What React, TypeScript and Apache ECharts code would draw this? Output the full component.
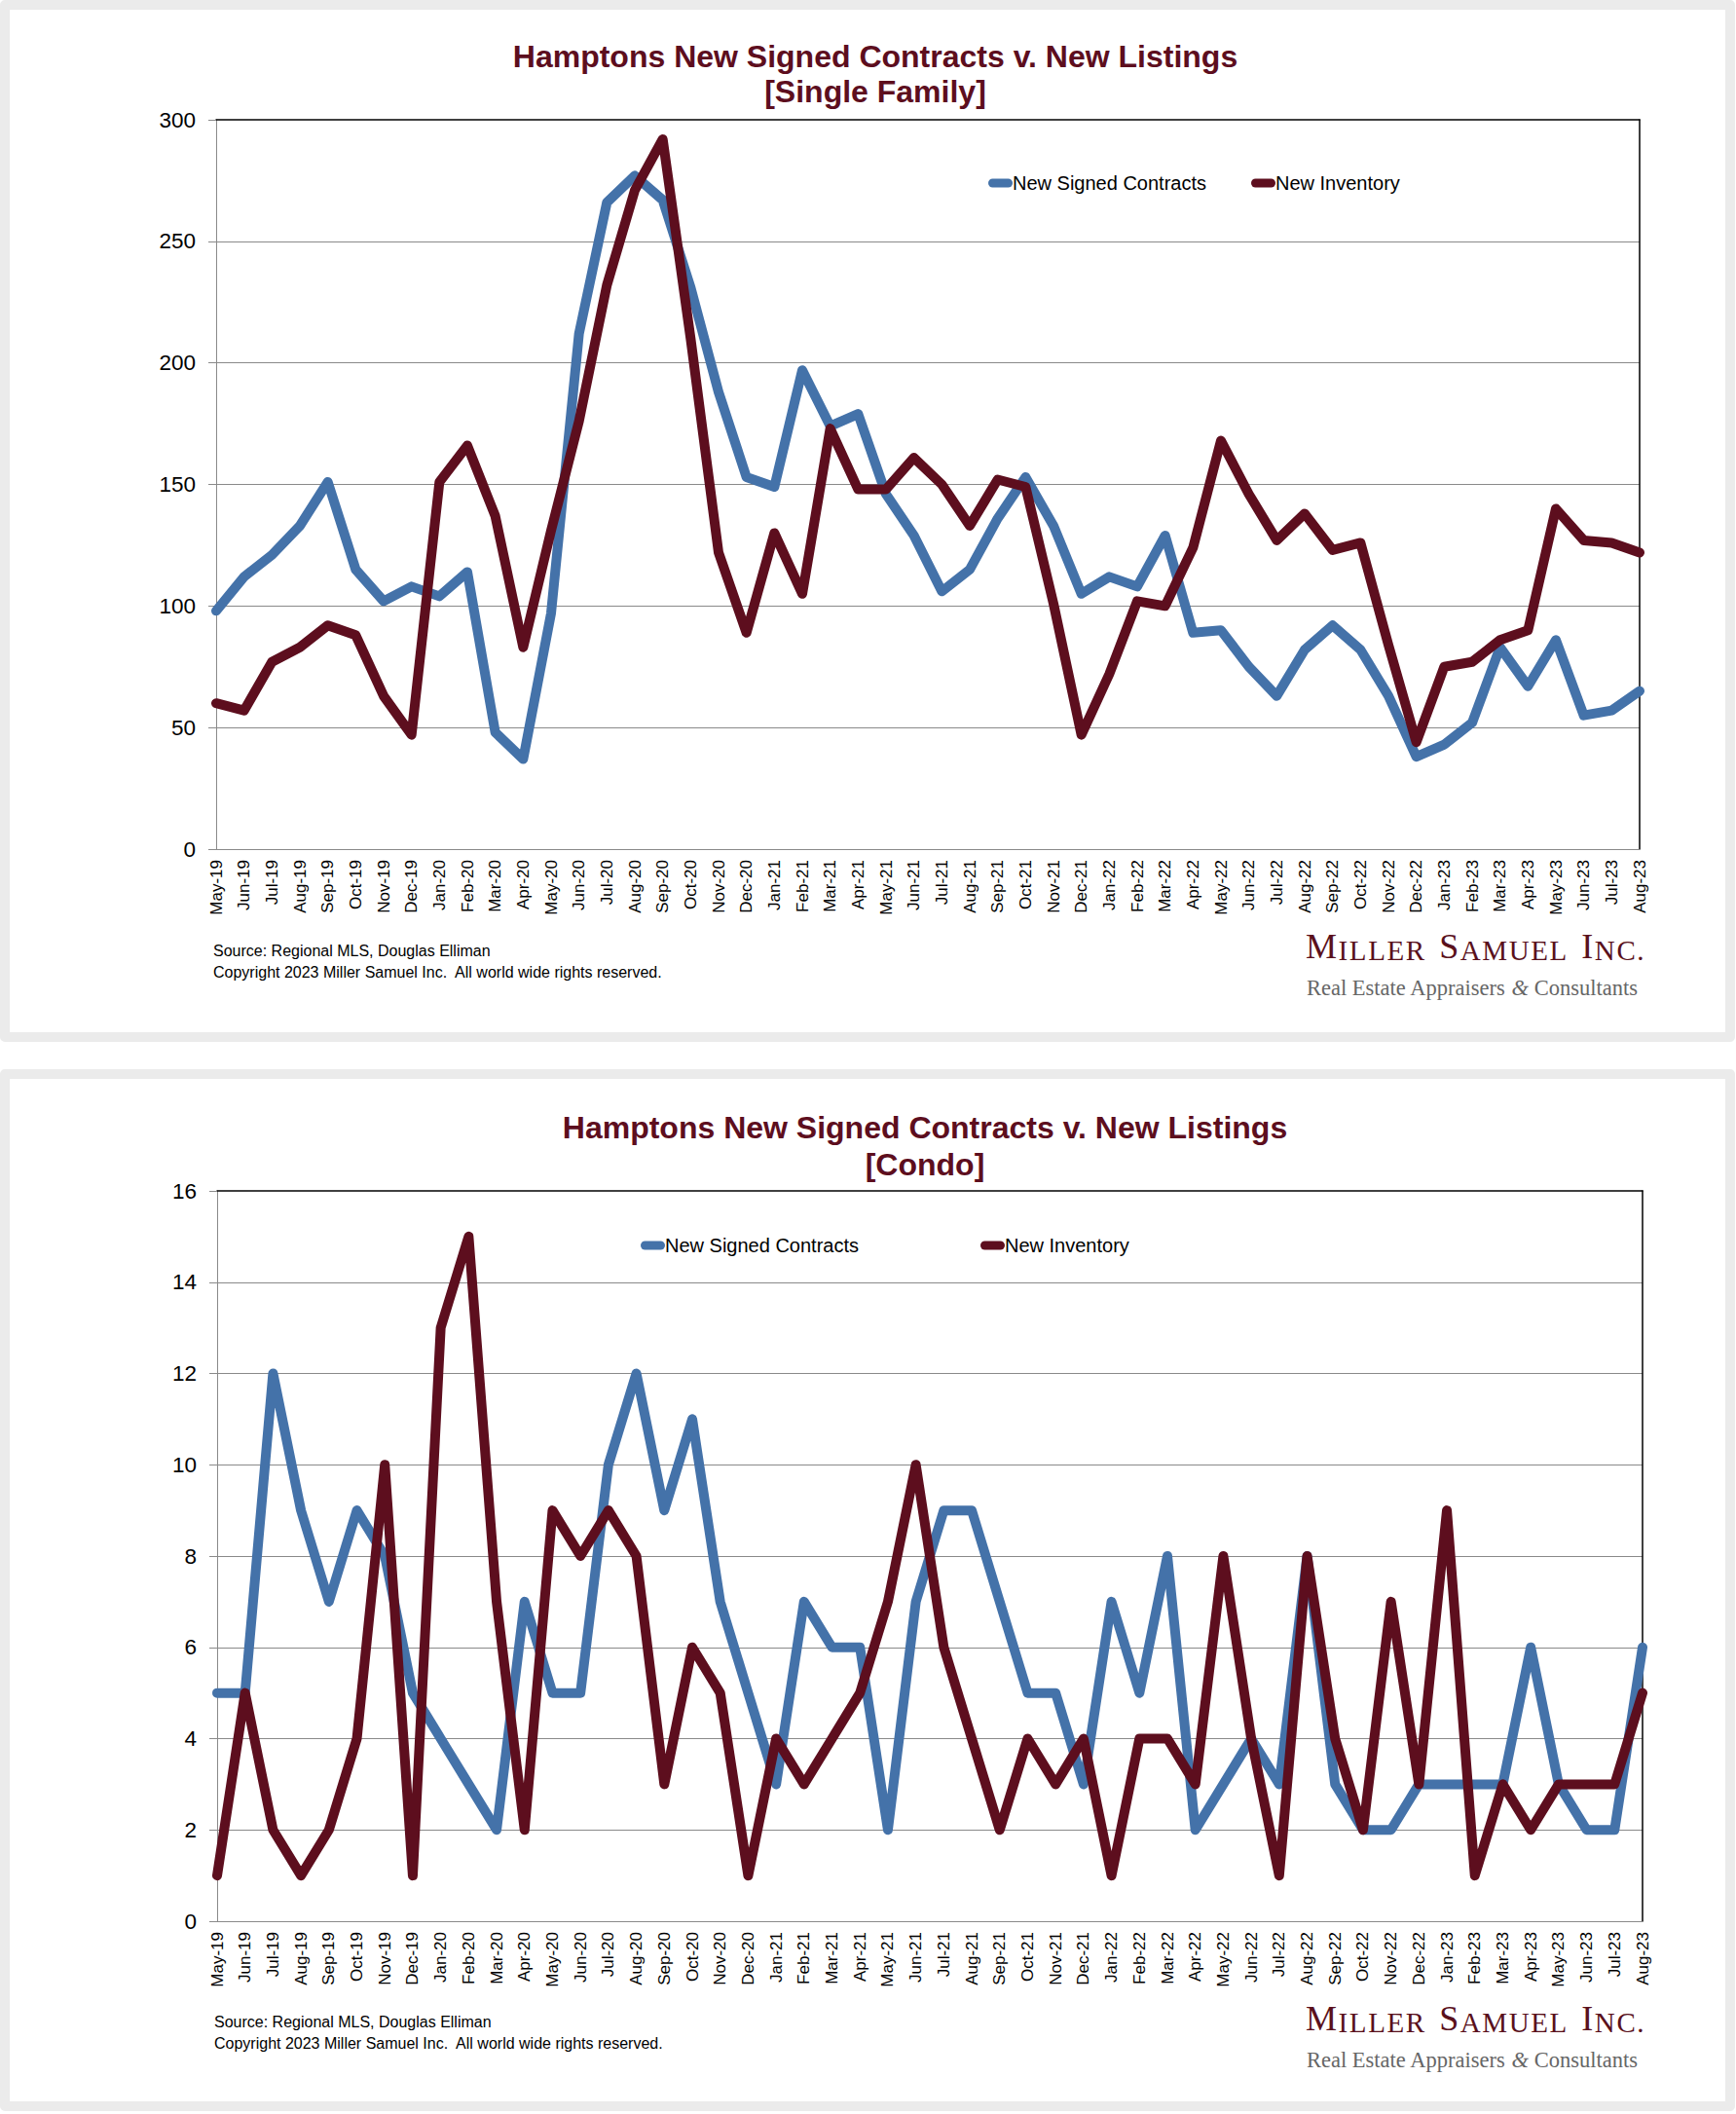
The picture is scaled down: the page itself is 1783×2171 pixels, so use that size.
import React, { useEffect, useRef } from "react";
import * as echarts from "echarts";

// ---------- DATA ----------
const months = [
  "May-19", "Jun-19", "Jul-19", "Aug-19", "Sep-19", "Oct-19", "Nov-19", "Dec-19",
  "Jan-20", "Feb-20", "Mar-20", "Apr-20", "May-20", "Jun-20", "Jul-20", "Aug-20", "Sep-20", "Oct-20", "Nov-20", "Dec-20",
  "Jan-21", "Feb-21", "Mar-21", "Apr-21", "May-21", "Jun-21", "Jul-21", "Aug-21", "Sep-21", "Oct-21", "Nov-21", "Dec-21",
  "Jan-22", "Feb-22", "Mar-22", "Apr-22", "May-22", "Jun-22", "Jul-22", "Aug-22", "Sep-22", "Oct-22", "Nov-22", "Dec-22",
  "Jan-23", "Feb-23", "Mar-23", "Apr-23", "May-23", "Jun-23", "Jul-23", "Aug-23",
];

const singleFamilyContracts = [
  98, 112, 121, 133, 151, 115, 102, 108,
  104, 114, 48, 37, 97, 212, 266, 277, 267, 231, 188, 153,
  149, 197, 174, 179, 146, 129, 106, 115, 136, 153, 133, 105,
  112, 108, 129, 89, 90, 75, 63, 82, 92, 82, 63, 38,
  43, 52, 83, 67, 86, 55, 57, 65,
];

const singleFamilyInventory = [
  60, 57, 77, 83, 92, 88, 63, 47,
  151, 166, 137, 83, 131, 176, 232, 271, 292, 210, 122, 89,
  130, 105, 173, 148, 148, 161, 150, 133, 152, 149, 101, 47,
  72, 102, 100, 124, 168, 146, 127, 138, 123, 126, 84, 44,
  75, 77, 86, 90, 140, 127, 126, 122,
];

const condoContracts = [
  5, 5, 12, 9, 7, 9, 8, 5,
  4, 3, 2, 7, 5, 5, 10, 12, 9, 11, 7, 5,
  3, 7, 6, 6, 2, 7, 9, 9, 7, 5, 5, 3,
  7, 5, 8, 2, 3, 4, 3, 8, 3, 2, 2, 3,
  3, 3, 3, 6, 3, 2, 2, 6,
];

const condoInventory = [
  1, 5, 2, 1, 2, 4, 10, 1,
  13, 15, 7, 2, 9, 8, 9, 8, 3, 6, 5, 1,
  4, 3, 4, 5, 7, 10, 6, 4, 2, 4, 3, 4,
  1, 4, 4, 3, 8, 4, 1, 8, 4, 2, 7, 3,
  9, 1, 3, 2, 3, 3, 3, 5,
];

const seriesNames = ["New Signed Contracts", "New Inventory"];
const titleLine1 = "Hamptons New Signed Contracts v. New Listings";
const sourceText = "Source: Regional MLS, Douglas Elliman";
const copyrightText = "Copyright 2023 Miller Samuel Inc.  All world wide rights reserved.";

// ---------- STYLE ----------
const SANS = '"Liberation Sans", Arial, Helvetica, sans-serif';
const SERIF = '"Liberation Serif", "Times New Roman", serif';
const BLUE = "#4472a9";
const MAROON = "#5d0e1e";
const GRID_GRAY = "#8a8a8a";

const PANEL_W = 1782;
const PANEL_H = 1070;
const BORDER = 10;
const CHART_W = PANEL_W - 2 * BORDER;
const CHART_H = PANEL_H - 2 * BORDER;

type PanelCfg = {
  subtitle: string;
  contracts: number[];
  inventory: number[];
  yMax: number;
  yStep: number;
  grid: { left: number; right: number; top: number; bottom: number };
  titleX: number;
  titleY1: number;
  titleY2: number;
  legendLeft: number;
  legendTop: number;
  legendGap: number;
  footY1: number;
  footY2: number;
  logoY1: number;
  logoY2: number;
};

function logoRichText() {
  const words = ["MILLER", "SAMUEL", "INC."];
  const parts: string[] = [];
  words.forEach((w, wi) => {
    const chars = w.split("");
    chars.forEach((ch, ci) => {
      const isFirst = ci === 0;
      const isLast = ci === chars.length - 1;
      const lastWord = wi === words.length - 1;
      let style: string;
      if (isFirst) style = isLast ? (lastWord ? "B0" : "BW") : "B";
      else style = isLast ? (lastWord ? "S0" : "SW") : "S";
      parts.push("{" + style + "|" + ch + "}");
    });
  });
  return parts.join("");
}

function buildOption(cfg: PanelCfg) {
  const LS = 1.6;
  const WG = 15;
  const LOGO = "#5a111c";
  const big = { fontSize: 36, fontFamily: SERIF, fill: LOGO, color: LOGO, verticalAlign: "bottom" };
  const small = { fontSize: 29, fontFamily: SERIF, fill: LOGO, color: LOGO, verticalAlign: "bottom" };
  const rich: any = {
    B: { ...big, padding: [0, LS, 0, 0] },
    BW: { ...big, padding: [0, WG, 0, 0] },
    B0: { ...big },
    S: { ...small, padding: [0, LS, 0, 0] },
    SW: { ...small, padding: [0, WG, 0, 0] },
    S0: { ...small },
  };
  const taglineRich: any = {
    t: { fontSize: 22.5, fontFamily: SERIF, fill: "#666666", color: "#666666" },
    a: { fontSize: 22.5, fontFamily: SERIF, fontStyle: "italic", fill: "#666666", color: "#666666" },
  };

  const txt = (x: number, y: number, text: string, extra: any) => ({
    type: "text",
    x,
    y,
    silent: true,
    style: {
      text,
      fill: "#000",
      fontFamily: SANS,
      align: "left",
      textAlign: "left",
      verticalAlign: "middle",
      textVerticalAlign: "middle",
      ...extra,
    },
  });

  return {
    animation: false,
    backgroundColor: "#ffffff",
    textStyle: { fontFamily: SANS },
    grid: { ...cfg.grid, containLabel: false, show: false },
    legend: {
      left: cfg.legendLeft,
      top: cfg.legendTop,
      orient: "horizontal",
      data: seriesNames,
      icon: "path://M4.5,0H20.5A4.5,4.5,0,0,1,20.5,9H4.5A4.5,4.5,0,0,1,4.5,0Z",
      itemWidth: 25,
      itemHeight: 9,
      itemGap: cfg.legendGap,
      itemStyle: { borderWidth: 0 },
      selectedMode: false,
      textStyle: { fontSize: 20, color: "#000", fontFamily: SANS, padding: [0, 0, 0, -5] },
    },
    xAxis: [
      {
        type: "category",
        data: months,
        boundaryGap: false,
        axisLine: { show: true, onZero: true, lineStyle: { color: GRID_GRAY, width: 1 } },
        axisTick: { show: false },
        axisLabel: { interval: 0, rotate: 90, fontSize: 17, color: "#000", margin: 11, fontFamily: SANS },
        splitLine: { show: false },
      },
      {
        type: "category",
        data: months,
        boundaryGap: false,
        position: "top",
        axisLine: { show: true, onZero: false, lineStyle: { color: "#000", width: 1.5 } },
        axisTick: { show: false },
        axisLabel: { show: false },
        splitLine: { show: false },
      },
    ],
    yAxis: [
      {
        type: "value",
        min: 0,
        max: cfg.yMax,
        interval: cfg.yStep,
        axisLine: { show: true, onZero: false, lineStyle: { color: GRID_GRAY, width: 1 } },
        axisTick: { show: true, inside: false, length: 8, lineStyle: { color: GRID_GRAY, width: 1 } },
        axisLabel: { fontSize: 22.5, color: "#000", margin: 21, fontFamily: SANS },
        splitLine: { show: true, showMinLine: false, showMaxLine: false, lineStyle: { color: GRID_GRAY, width: 1 } },
      },
      {
        type: "value",
        min: 0,
        max: cfg.yMax,
        interval: cfg.yStep,
        position: "right",
        axisLine: { show: true, onZero: false, lineStyle: { color: "#000", width: 1.5 } },
        axisTick: { show: false },
        axisLabel: { show: false },
        splitLine: { show: false },
      },
    ],
    series: [
      {
        name: seriesNames[0],
        type: "line",
        data: cfg.contracts,
        xAxisIndex: 0,
        yAxisIndex: 0,
        symbol: "none",
        showSymbol: false,
        color: BLUE,
        itemStyle: { color: BLUE },
        lineStyle: { color: BLUE, width: 10, cap: "round", join: "round" },
        z: 3,
      },
      {
        name: seriesNames[1],
        type: "line",
        data: cfg.inventory,
        xAxisIndex: 0,
        yAxisIndex: 0,
        symbol: "none",
        showSymbol: false,
        color: MAROON,
        itemStyle: { color: MAROON },
        lineStyle: { color: MAROON, width: 10, cap: "round", join: "round" },
        z: 4,
      },
    ],
    graphic: [
      txt(cfg.titleX, cfg.titleY1, titleLine1, {
        fontSize: 32, fontWeight: "bold", fill: MAROON, align: "center", textAlign: "center",
      }),
      txt(cfg.titleX, cfg.titleY2, cfg.subtitle, {
        fontSize: 32, fontWeight: "bold", fill: MAROON, align: "center", textAlign: "center",
      }),
      txt(cfg.grid.left - 3, cfg.footY1, sourceText, { fontSize: 16 }),
      txt(cfg.grid.left - 3, cfg.footY2, copyrightText, { fontSize: 16 }),
      {
        type: "text",
        x: 1331,
        y: cfg.logoY1,
        silent: true,
        style: {
          text: logoRichText(),
          rich,
          align: "left",
          textAlign: "left",
          verticalAlign: "middle",
          textVerticalAlign: "middle",
        },
      },
      {
        type: "text",
        x: 1332,
        y: cfg.logoY2,
        silent: true,
        style: {
          text: "{t|Real Estate Appraisers }{a|&}{t| Consultants}",
          rich: taglineRich,
          align: "left",
          textAlign: "left",
          verticalAlign: "middle",
          textVerticalAlign: "middle",
        },
      },
    ],
  };
}

const panels: PanelCfg[] = [
  {
    subtitle: "[Single Family]",
    contracts: singleFamilyContracts,
    inventory: singleFamilyInventory,
    yMax: 300,
    yStep: 50,
    grid: { left: 212, right: 88, top: 113, bottom: 188 },
    titleX: 889,
    titleY1: 47.5,
    titleY2: 84,
    legendLeft: 1000,
    legendTop: 163,
    legendGap: 46,
    footY1: 966.5,
    footY2: 988,
    logoY1: 962,
    logoY2: 1004.5,
  },
  {
    subtitle: "[Condo]",
    contracts: condoContracts,
    inventory: condoInventory,
    yMax: 16,
    yStep: 2,
    grid: { left: 213, right: 85, top: 115, bottom: 185 },
    titleX: 940,
    titleY1: 50,
    titleY2: 87.5,
    legendLeft: 643,
    legendTop: 156,
    legendGap: 125,
    footY1: 968,
    footY2: 990,
    logoY1: 965,
    logoY2: 1007,
  },
];

function ChartPanel({ cfg, top }: { cfg: PanelCfg; top: number }) {
  const ref = useRef<HTMLDivElement | null>(null);
  useEffect(() => {
    if (!ref.current) return;
    const chart = echarts.init(ref.current, undefined, { renderer: "svg", width: CHART_W, height: CHART_H });
    chart.setOption(buildOption(cfg) as any);
    return () => chart.dispose();
  }, [cfg]);
  return (
    <div
      style={{
        position: "absolute",
        left: 0,
        top,
        width: PANEL_W,
        height: PANEL_H,
        boxSizing: "border-box",
        border: `${BORDER}px solid #ebebeb`,
        borderRadius: 5,
        background: "#fff",
        overflow: "hidden",
      }}
    >
      <div ref={ref} style={{ width: CHART_W, height: CHART_H }} />
    </div>
  );
}

export default function App() {
  useEffect(() => {
    document.body.style.margin = "0";
    document.body.style.background = "#ffffff";
  }, []);
  return (
    <div style={{ position: "relative", width: 1783, height: 2170, background: "#fff" }}>
      <ChartPanel cfg={panels[0]} top={0} />
      <ChartPanel cfg={panels[1]} top={1098} />
    </div>
  );
}
